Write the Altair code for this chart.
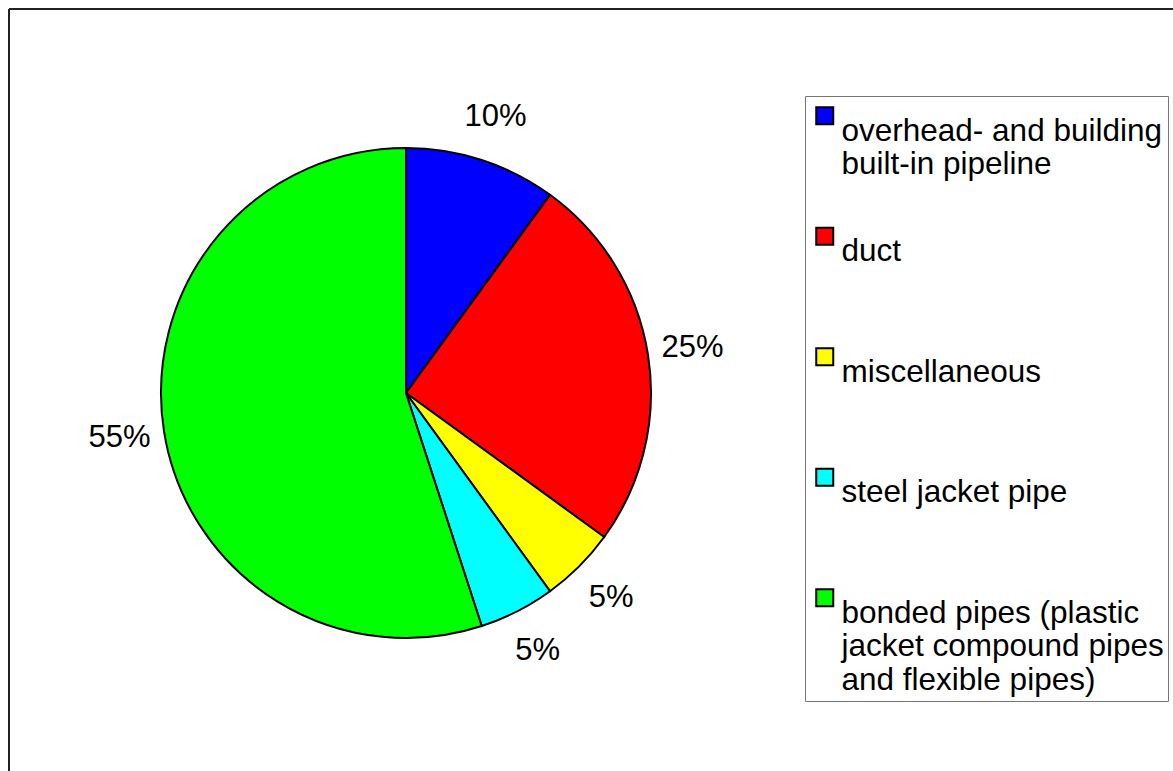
import altair as alt
import pandas as pd

categories = [
    "overhead- and building built-in pipeline",
    "duct",
    "miscellaneous",
    "steel jacket pipe",
    "bonded pipes (plastic jacket compound pipes and flexible pipes)",
]
shares = [10, 25, 5, 5, 55]
pct_labels = ["10%", "25%", "5%", "5%", "55%"]
colors = ["#0000FF", "#FF0000", "#FFFF00", "#00FFFF", "#00FF00"]
legend_lines = [
    ["overhead- and building", "built-in pipeline", ""],
    ["duct", "", ""],
    ["miscellaneous", "", ""],
    ["steel jacket pipe", "", ""],
    ["bonded pipes (plastic", "jacket compound pipes", "and flexible pipes)"],
]

df = pd.DataFrame({
    "category": categories,
    "share": shares,
    "label": pct_labels,
    "order": list(range(len(categories))),
})

# legend label expression: split each category into its printed lines
expr = "''"
for cat, lines in reversed(list(zip(categories, legend_lines))):
    arr = "[" + ",".join("'" + l + "'" for l in lines) + "]"
    expr = f"datum.label === '{cat}' ? {arr} : ({expr})"

FONT = "Liberation Sans"
W, H = 1164, 762
CX, CY, R = 397, 384, 245

base = alt.Chart(df)

pie = base.mark_arc(stroke="black", strokeWidth=2, radius=R).encode(
    theta=alt.Theta("share:Q", stack=True),
    order=alt.Order("order:Q"),
    color=alt.Color(
        "category:N",
        scale=alt.Scale(domain=categories, range=colors),
        legend=alt.Legend(
            title=None,
            orient="none",
            legendX=796,
            legendY=87,
            labelExpr=expr,
            labelFont=FONT,
            labelFontSize=31.5,
            labelColor="black",
            labelBaseline="top",
            labelLimit=700,
            labelOffset=1,
            symbolType="square",
            symbolSize=289,
            symbolStrokeColor="black",
            symbolStrokeWidth=2,
            symbolOpacity=1,
            rowPadding=5.5,
            padding=4,
            strokeColor="#777777",
            fillColor="white",
        ),
    ),
    x=alt.value(CX),
    y=alt.value(CY),
)

text = base.mark_text(font=FONT, fontSize=31, color="black", radius=290,
                      align="center", baseline="middle").encode(
    theta=alt.Theta("share:Q", stack=True),
    order=alt.Order("order:Q"),
    text="label:N",
    x=alt.value(CX),
    y=alt.value(CY),
)

left_border = alt.Chart(df).mark_rule(color="#222222", strokeWidth=2).encode(
    x=alt.value(0), y=alt.value(0), y2=alt.value(H)
)
top_border = alt.Chart(df).mark_rule(color="#222222", strokeWidth=2).encode(
    x=alt.value(0), x2=alt.value(W), y=alt.value(0)
)

chart = alt.layer(left_border, top_border, pie, text).properties(
    width=W,
    height=H,
    autosize=alt.AutoSizeParams(type="none"),
    padding={"left": 9, "top": 9, "right": 0, "bottom": 0},
    background="white",
).configure_view(strokeWidth=0)

chart.save("out.html", embed_options={"renderer": "svg", "actions": False})
